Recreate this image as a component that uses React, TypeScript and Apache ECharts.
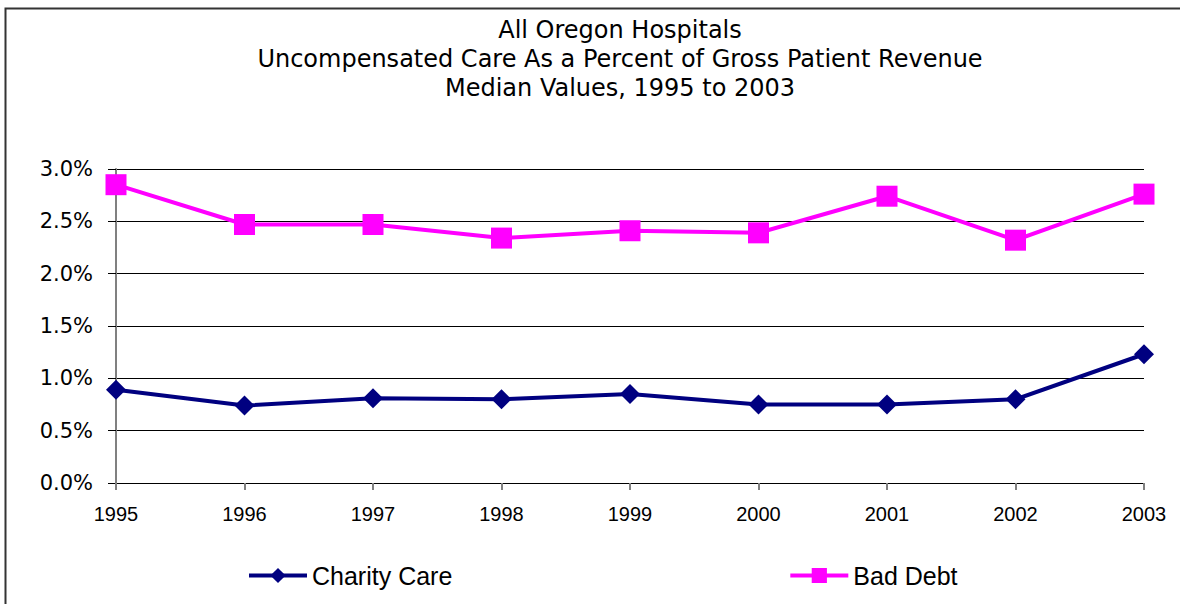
import React, { useEffect, useRef } from "react";
import * as echarts from "echarts";

const years = ["1995", "1996", "1997", "1998", "1999", "2000", "2001", "2002", "2003"];
const charityCare = [0.89, 0.74, 0.81, 0.8, 0.85, 0.75, 0.75, 0.8, 1.23];
const badDebt = [2.85, 2.47, 2.47, 2.34, 2.41, 2.39, 2.74, 2.32, 2.76];
const titleLines = [
  "All Oregon Hospitals",
  "Uncompensated Care As a Percent of Gross Patient Revenue",
  "Median Values, 1995 to 2003",
];

export default function App() {
  const ref = useRef<HTMLDivElement>(null);
  useEffect(() => {
    if (!ref.current) return;
    const chart = echarts.init(ref.current, null, { renderer: "svg" });
    const titleFont = "24px 'DejaVu Sans', Verdana, sans-serif";
    chart.setOption({
      animation: false,
      backgroundColor: "#ffffff",
      graphic: [
        {
          type: "rect",
          shape: { x: 5.5, y: 8.5, width: 1300, height: 700 },
          style: { fill: "none", stroke: "#333333", lineWidth: 2 },
          silent: true,
        },
        ...titleLines.map((t, i) => ({
          type: "text",
          x: 620,
          y: 30 + i * 29,
          silent: true,
          style: {
            text: t,
            font: titleFont,
            fill: "#000000",
            align: "center",
            verticalAlign: "middle",
            textAlign: "center",
            textVerticalAlign: "middle",
          },
        })),
      ],
      legend: {
        left: 242,
        top: 558,
        itemWidth: 58,
        itemHeight: 19,
        itemGap: 336,
        lineStyle: { width: 4 },
        textStyle: {
          fontFamily: "'Liberation Sans Narrow', 'Liberation Sans', Arial, sans-serif",
          fontSize: 25,
          color: "#000000",
        },
        data: ["Charity Care", "Bad Debt"],
      },
      grid: { left: 116, right: 36, top: 169, bottom: 121 },
      xAxis: {
        type: "category",
        data: years,
        boundaryGap: false,
        axisLine: { lineStyle: { color: "#000000", width: 1 } },
        axisTick: { length: 7, lineStyle: { color: "#808080", width: 2 } },
        axisLabel: {
          margin: 21,
          fontFamily: "'Liberation Sans', Arial, sans-serif",
          fontSize: 20,
          color: "#000000",
        },
      },
      yAxis: {
        type: "value",
        min: 0,
        max: 3,
        interval: 0.5,
        axisLine: { show: true, lineStyle: { color: "#808080", width: 2 } },
        axisTick: { show: true, length: 8, lineStyle: { color: "#000000", width: 1 } },
        splitLine: { lineStyle: { color: "#000000", width: 1 } },
        axisLabel: {
          margin: 23,
          fontFamily: "'DejaVu Sans', Verdana, sans-serif",
          fontSize: 21,
          color: "#000000",
          formatter: (v: number) => v.toFixed(1) + "%",
        },
      },
      series: [
        {
          name: "Charity Care",
          type: "line",
          data: charityCare,
          symbol: "diamond",
          symbolSize: 20,
          color: "#000080",
          lineStyle: { color: "#000080", width: 4 },
          itemStyle: { color: "#000080" },
          z: 3,
        },
        {
          name: "Bad Debt",
          type: "line",
          data: badDebt,
          symbol: "rect",
          symbolSize: 21,
          color: "#FF00FF",
          lineStyle: { color: "#FF00FF", width: 4 },
          itemStyle: { color: "#FF00FF" },
          z: 3,
        },
      ],
    });
    return () => chart.dispose();
  }, []);
  return (
    <div
      ref={ref}
      style={{ position: "fixed", left: 0, top: 0, width: 1180, height: 604 }}
    />
  );
}
